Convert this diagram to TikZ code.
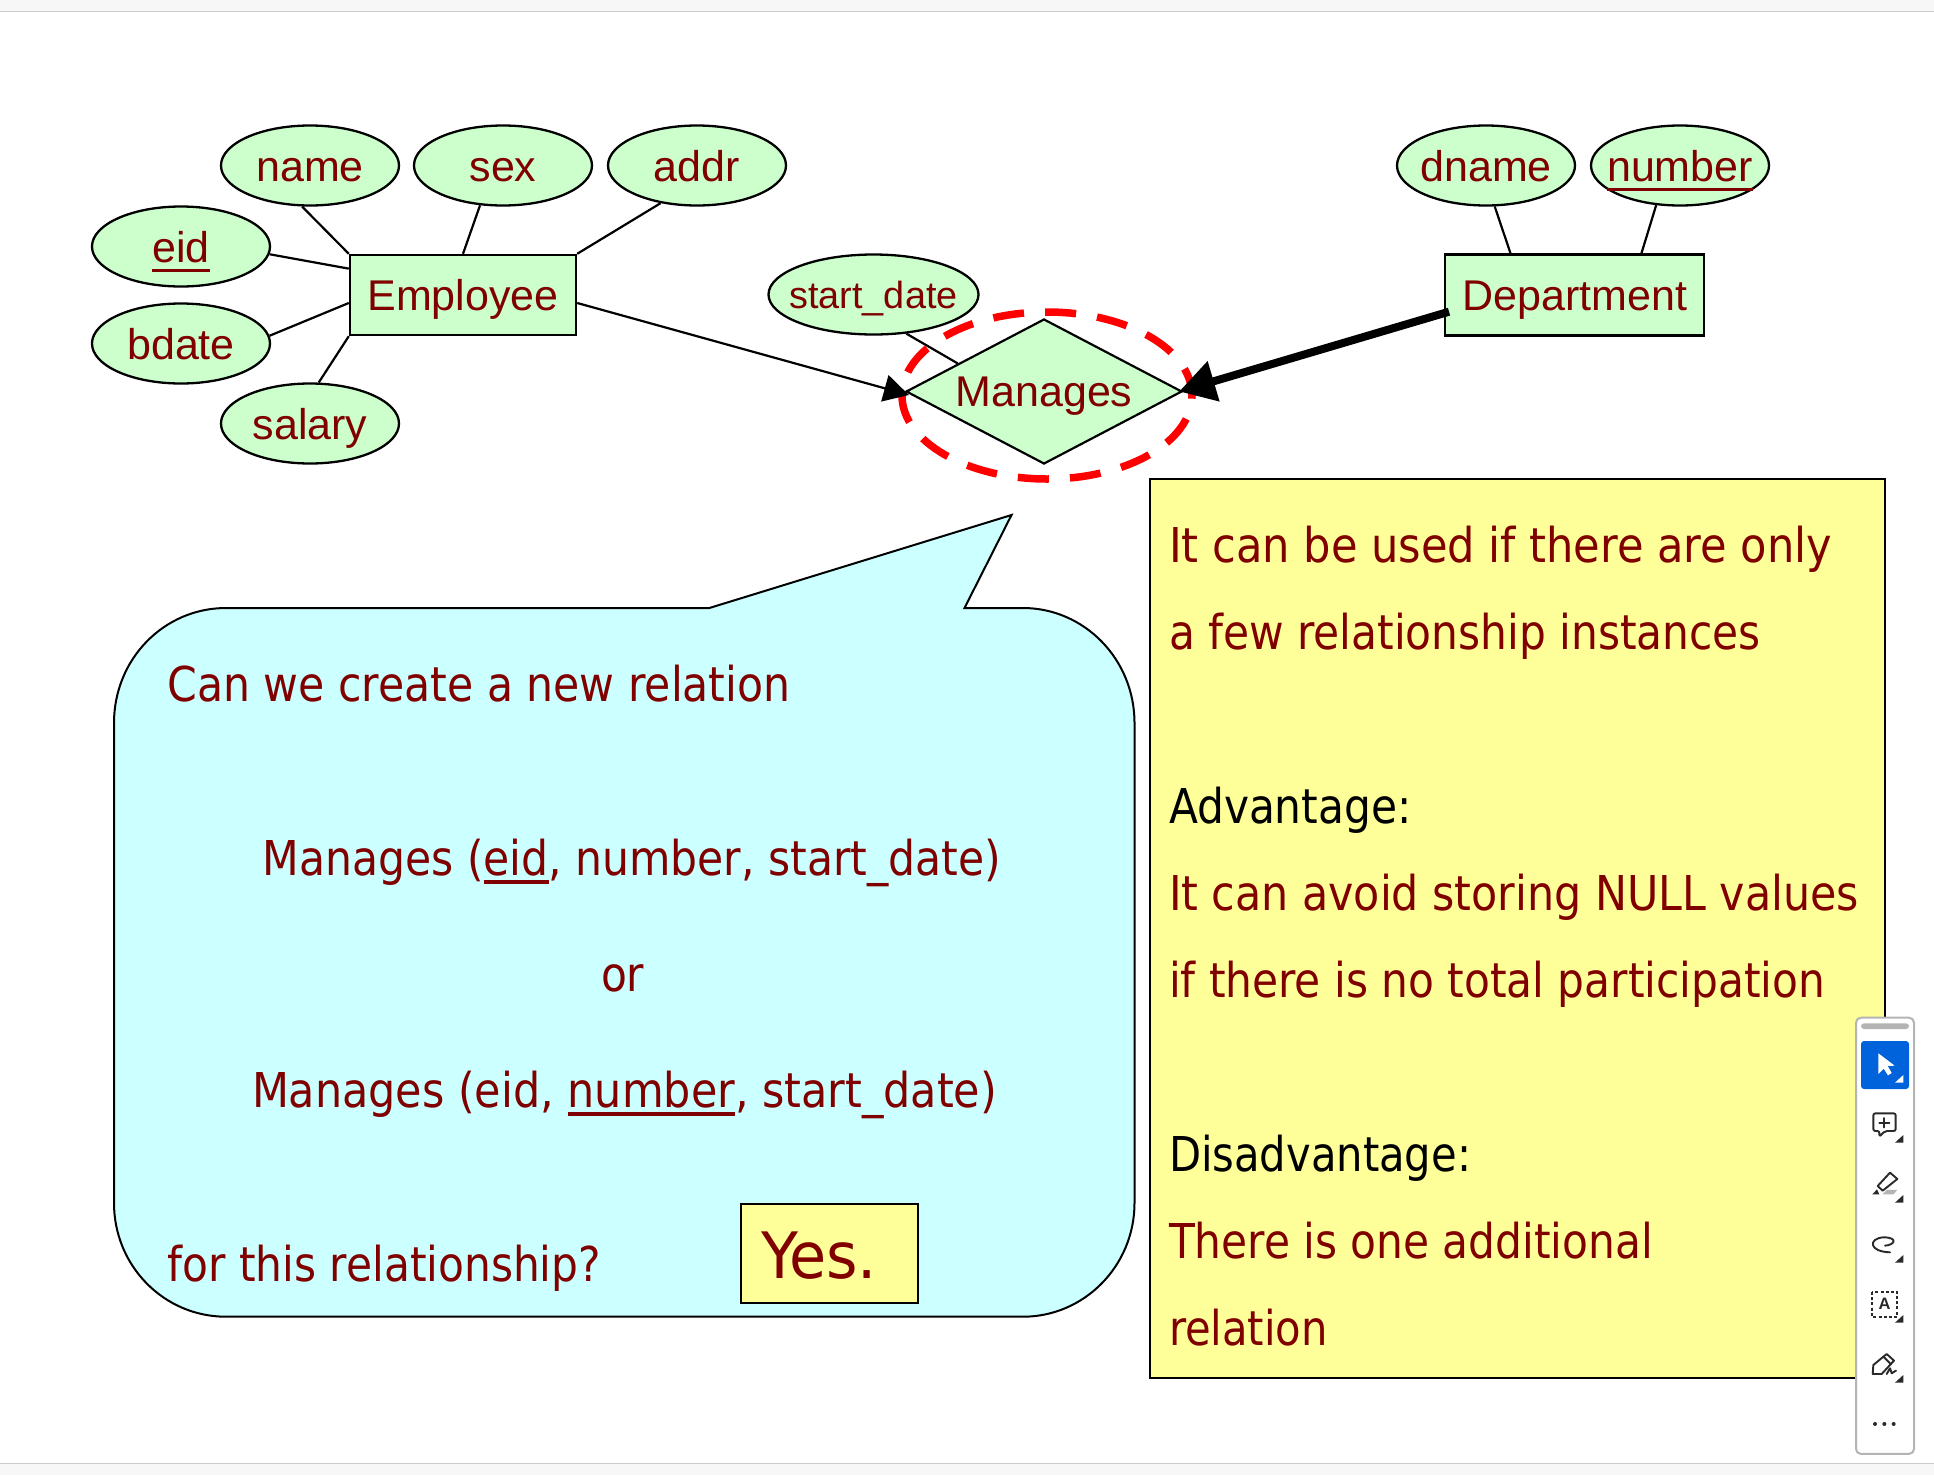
\documentclass[tikz,border=0pt]{standalone}
\usepackage{fontspec}
\setmainfont{Liberation Sans}
\newfontfamily\tah[FakeStretch=0.98]{DejaVu Sans Condensed}
\newfontfamily\tahw[FakeStretch=1.05]{DejaVu Sans Condensed}
\usetikzlibrary{shapes.geometric,arrows.meta,backgrounds}
\definecolor{dred}{HTML}{800000}
\definecolor{lgreen}{HTML}{CCFFCC}
\definecolor{lcyan}{HTML}{CCFFFF}
\definecolor{lyellow}{HTML}{FFFF99}
\definecolor{tbblue}{HTML}{0063DB}
\definecolor{tbgray}{HTML}{B4B4B4}
\definecolor{ink}{HTML}{2A2A2A}
\newcommand{\ulin}[3]{\setbox0\hbox{#1}\rlap{\color{dred}\vrule width\wd0 height -#2pt depth \dimexpr#2pt+#3pt\relax}\box0 }
\newcommand{\zw}[1]{\makebox[0pt][c]{#1}}
\tikzset{
  attr/.style={ellipse,draw=black,line width=2.3pt,fill=lgreen,text=dred,inner sep=0pt,minimum width=178pt,minimum height=80pt,text height=31.5pt,text depth=0pt,font=\fontsize{43}{43}\selectfont},
  entity/.style={rectangle,draw=black,line width=2.4pt,fill=lgreen,text=dred,inner sep=0pt,font=\fontsize{43}{43}\selectfont,text height=30pt,text depth=0pt},
  conn/.style={line width=2.2pt,black},
  body/.style={anchor=base west,inner sep=0pt,outer sep=0pt,text=dred,font=\tah\fontsize{48}{48}\selectfont},
  bodyk/.style={body,text=black},
  tri/.style={fill=ink,draw=none},
  icon/.style={draw=ink,line width=1.9pt,line join=round,line cap=round}
}
\begin{document}
\begin{tikzpicture}[x=1pt,y=-1pt]
\useasboundingbox (0,0) rectangle (1934,1475);
% window chrome
\fill[black!3] (0,0) rectangle (1934,11.5);
\draw[black!20,line width=1pt] (0,11.5) -- (1934,11.5);
\fill[black!3] (0,1463.5) rectangle (1934,1475);
\draw[black!20,line width=1pt] (0,1463.5) -- (1934,1463.5);
% attributes and entities
\node[attr] (name) at (310,165.5) {\zw{name}};
\node[attr] (sex) at (503,165.5) {\zw{sex}};
\node[attr] (addr) at (697,165.5) {\zw{addr}};
\node[attr] (eid) at (181,246.5) {\zw{\ulin{eid}{7}{3.2}}};
\node[attr] (bdate) at (181,343.5) {\zw{bdate}};
\node[attr] (salary) at (310,423.5) {\zw{salary}};
\node[attr] (dname) at (1486,165.5) {\zw{dname}};
\node[attr] (number) at (1680,165.5) {\zw{\ulin{number}{6.5}{3.2}}};
\node[attr,minimum width=210pt,font=\fontsize{37.8}{37.8}\selectfont,text height=27pt] (sdate) at (873.5,294.5) {\zw{start\_date}};
\node[entity,minimum width=226pt,minimum height=80pt] (emp) at (463,295) {Employee};
\node[entity,minimum width=259pt,minimum height=81pt] (dept) at (1574.7,295) {Department};
\node[diamond,draw=black,line width=2.2pt,fill=lgreen,text=dred,inner sep=0pt,minimum width=276pt,minimum height=145pt,font=\fontsize{43}{43}\selectfont,text height=30pt,text depth=0pt] (mgr) at (1044,391.5) {\zw{Manages}};
\node[ellipse,draw=red,line width=7.5pt,minimum width=290pt,minimum height=167pt,inner sep=0pt,dash pattern=on 31pt off 21.2pt,dash phase=3pt] (ring) at (1047,395.5) {};
\begin{scope}[on background layer]
\draw[conn] (name.259) -- (emp.north west);
\draw[conn] (sex.240) -- (emp.north);
\draw[conn] (addr.226) -- (emp.north east);
\draw[conn] (eid.-5.5) -- (emp.167.9);
\draw[conn] (bdate.5.5) -- (emp.184.2);
\draw[conn] (salary.78.6) -- (emp.south west);
\draw[conn] (dname.-78.5) -- (dept.147.4);
\draw[conn] (number.239.3) -- (dept.32.4);
\draw[conn] (sdate.-50.5) -- (mgr.162);
\end{scope}
\draw[conn,-{Triangle[length=25pt,width=27pt]}] (emp.-4) -- ([xshift=4pt,yshift=-3.5pt]mgr.west);
\draw[line width=8pt,black,-{Triangle[length=36pt,width=40pt]}] ([xshift=5pt,yshift=-16.7pt]dept.west) -- ([xshift=-4pt]mgr.east);
% callout
\path[draw=black,line width=2pt,fill=lcyan] (226,608) -- (709.4,608) -- (1011.5,515) -- (964.5,608) -- (1023,608)
  .. controls (1084,608) and (1134.5,659) .. (1134.5,723) -- (1134.5,1203)
  .. controls (1134.5,1266) and (1084,1316.7) .. (1023,1316.7) -- (226,1316.7)
  .. controls (164,1316.7) and (114,1266) .. (114,1203) -- (114,723)
  .. controls (114,659) and (164,608) .. (226,608) -- cycle;
\node[body] (q1) at (167.7,701.4) {\scalebox{1.006}[1]{Can we create a new relation}};
\node[body] (q2) at (262.7,875.4) {\scalebox{1.004}[1]{Manages (\ulin{eid}{5}{3.2}, number, start\_date)}};
\node[body] (q3) at (601,991.5) {or};
\node[body] (q4) at (252,1107.4) {\scalebox{1.013}[1]{Manages (eid, \ulin{number}{5}{3.2}, start\_date)}};
\node[body] (q5) at (167.6,1281.4) {for this relationship?};
\node[rectangle,draw=black,line width=2pt,fill=lyellow,minimum width=177pt,minimum height=98.7pt,inner sep=0pt] (yesbox) at (829.5,1253.4) {};
\node[body,font=\tahw\fontsize{64}{64}\selectfont] (yes) at (761,1278) {Yes.};
% note
\node[rectangle,draw=black,line width=2pt,fill=lyellow,minimum width=735.5pt,minimum height=898.4pt,inner sep=0pt] (note) at (1517.3,928.5) {};
\node[body] (n1) at (1169,562.7) {\scalebox{1.02}[1]{It can be used if there are only}};
\node[body] (n2) at (1169,649.7) {a few relationship instances};
\node[bodyk] (n3) at (1169,823.7) {Advantage:};
\node[body] (n4) at (1169,910.7) {\scalebox{1.011}[1]{It can avoid storing NULL values}};
\node[body] (n5) at (1169,997.7) {if there is no total participation};
\node[bodyk] (n6) at (1169,1171.7) {\scalebox{0.985}[1]{Disadvantage:}};
\node[body] (n7) at (1169,1258.7) {There is one additional};
\node[body] (n8) at (1169,1345.7) {\scalebox{0.985}[1]{relation}};
% toolbar, coordinates in 3x units
\begin{scope}[shift={(1840,1000)},x=0.3333pt,y=-0.3333pt]
\draw[draw=tbgray,line width=2pt,fill=white,rounded corners=5pt] (48,53) rectangle (222,1362);
\fill[tbgray,rounded corners=3pt] (63,70) rectangle (207,87);
\fill[tbblue,rounded corners=3pt] (63,123) rectangle (207,267);
\fill[white] (115,160) -- (115,222) -- (131,206) -- (144,226) -- (155,219) -- (143,198) -- (164,197) -- cycle;
\fill[white] (165,248) -- (190,248) -- (190,225) -- cycle;
\foreach \yy in {428,608,788,968,1148} {\fill[tri] (165,\yy) -- (190,\yy) -- (190,\yy-23) -- cycle;}
% comment
\draw[icon,rounded corners=2pt] (100,340) -- (167,340) -- (167,393) -- (135,393) -- (118,410) -- (118,393) -- (100,393) -- cycle;
\draw[icon] (118,368) -- (148,368) (133,354) -- (133,382);
% highlighter
\draw[icon] (150,518) -- (172,537) -- (128,572) -- (113,558) -- cycle;
\fill[ink] (97,583) -- (118,583) -- (111,568) -- cycle;
\fill[tbgray] (128,583) -- (160,583) -- (172,570) -- (140,570) -- cycle;
% lasso
\draw[icon] (135,737) .. controls (165,735) and (175,712) .. (130,712) .. controls (85,715) and (85,755) .. (150,757);
% selection
\draw[draw=ink,line width=2.2pt,dash pattern=on 3pt off 2.2pt] (96,876) rectangle (172,950);
\node[inner sep=0pt,text=ink,font=\bfseries\fontsize{16.5}{16.5}\selectfont] (atext) at (134,912) {A};
% pen
\draw[icon] (140,1062) -- (162,1082) -- (125,1122) -- (98,1122) -- (100,1095) -- cycle;
\draw[icon] (132,1072) -- (152,1092);
\draw[icon] (140,1122) -- (150,1105) -- (155,1120) -- (168,1112);
% dots
\foreach \xx in {105,133,161} {\fill[ink] (\xx,1272) ellipse (6 and 6);}
\end{scope}
\end{tikzpicture}
\end{document}
